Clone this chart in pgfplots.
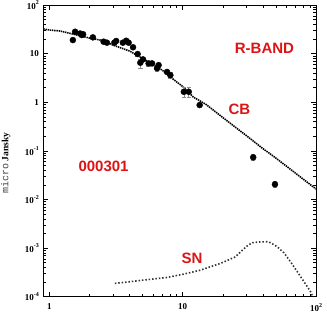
\documentclass[border=0pt]{standalone}
\usepackage{pgfplots}
\pgfplotsset{compat=1.18}
\usepackage{fontspec}
\setmainfont{Liberation Serif}
\newfontfamily\hv{Liberation Sans}
\newfontfamily\cour{Liberation Mono}
\definecolor{lblred}{RGB}{220,20,20}
\newcommand{\tk}[1]{\fontsize{9}{9}\selectfont\bfseries #1}
\newcommand{\tke}[1]{\fontsize{9}{9}\selectfont\bfseries 10\raisebox{0.5em}{\fontsize{6}{6}\selectfont #1}}
\pgfplotstableread{
x y ep em
1.50 19.0 0 0
1.56 28.2 0 0
1.70 25.9 0 0
1.75 24.1 0 0
1.79 25.0 0 0
2.12 21.6 0 0
2.55 17.6 0 0
2.70 16.8 0 0
3.07 16.8 0 0
3.17 18.2 0 0
3.56 16.8 0 0
3.77 18.4 0 0
3.93 16.8 0 0
4.24 13.5 0 0
4.59 9.8 1.0 1.0
4.81 6.5 1.2 1.5
5.04 7.6 0 0
5.55 6.3 0.8 0.8
5.89 6.3 0 0
6.42 5.0 0.7 0.7
6.60 5.8 0 0
7.63 4.2 0 0
8.08 3.6 0.5 0.5
10.2 1.64 0.4 0.35
11.1 1.64 0.4 0.35
13.4 0.875 0 0
33.8 0.0735 0.012 0.01
49.2 0.0205 0.003 0.003
}\obsdata
\begin{document}
\begin{tikzpicture}
\useasboundingbox (-43.3pt,-28.3pt) rectangle (283.7pt,296.7pt);
\begin{axis}[
  at={(0pt,0pt)}, anchor=south west, scale only axis,
  width=272.7pt, height=291.7pt,
  xmode=log, ymode=log, xmin=0.9, xmax=100, ymin=1e-4, ymax=100,
  axis line style={line width=0.8pt},
  tick style={line width=0.5pt, black},
  major tick length=5pt, minor tick length=2.8pt,
  xtick={1,10,100}, xticklabels={\tk{1},\tk{10},\tke{2}},
  minor xtick={2,3,4,5,6,7,8,9,20,30,40,50,60,70,80,90},
  ytick={1e-4,1e-3,1e-2,1e-1,1,10,100},
  yticklabels={\tke{-4},\tke{-3},\tke{-2},\tke{-1},\tk{1},\tk{10},\tke{2}},
  minor ytick={2e-4,3e-4,4e-4,5e-4,6e-4,7e-4,8e-4,9e-4,
    2e-3,3e-3,4e-3,5e-3,6e-3,7e-3,8e-3,9e-3,
    0.02,0.03,0.04,0.05,0.06,0.07,0.08,0.09,
    0.2,0.3,0.4,0.5,0.6,0.7,0.8,0.9,
    2,3,4,5,6,7,8,9,20,30,40,50,60,70,80,90},
  xticklabel style={yshift=-3pt},
  yticklabel style={xshift=-1pt},
]
% CB model curve
\addplot[black, line width=1.6pt, dash pattern=on 1.4pt off 0.8pt] coordinates {
(0.9,32.1) (1,30.6) (1.2,29.2) (1.5,25.3) (2,20.9) (2.5,18.6) (3,15.0)
(4,11.3) (5,7.93) (6,5.83) (7,4.60) (8,3.38) (10,2.10) (12,1.28)
(15,0.897) (20,0.484) (30,0.206) (40,0.111) (50,0.0711) (70,0.0349) (100,0.0164)};
% SN curve
\addplot[black!80, line width=1.6pt, dash pattern=on 1.5pt off 1.9pt] coordinates {
(3.1,1.88e-4) (4,2.03e-4) (5.09,2.2e-4) (7.63,2.49e-4) (10.2,2.92e-4)
(13.6,3.52e-4) (15.3,3.94e-4) (19.2,4.84e-4) (24.9,6.62e-4) (27.2,8.4e-4)
(30.5,1.11e-3) (33.2,1.29e-3) (38,1.34e-3) (43.1,1.35e-3) (45.6,1.29e-3)
(51.3,1.06e-3) (57.5,8.0e-4) (64.5,5.2e-4) (72.5,3.25e-4) (81.3,2.03e-4)
(91.2,1.26e-4) (96,9e-5)};
% observations
\addplot[only marks, mark=*, mark size=3pt, black,
  error bars/.cd, y dir=both, y explicit,
  error bar style={black!45, line width=0.5pt},
  error mark options={black!45, mark size=2.2pt, rotate=90}]
  table[x=x, y=y, y error plus=ep, y error minus=em] {\obsdata};
\node[font=\hv\bfseries\fontsize{15}{15}\selectfont, text=lblred] at (rel axis cs:0.811,0.853) {R-BAND};
\node[font=\hv\bfseries\fontsize{15}{15}\selectfont, text=lblred] at (rel axis cs:0.719,0.644) {CB};
\node[font=\hv\bfseries\fontsize{15}{15}\selectfont, text=lblred] at (rel axis cs:0.221,0.448) {000301};
\node[font=\hv\bfseries\fontsize{15}{15}\selectfont, text=lblred] at (rel axis cs:0.545,0.133) {SN};
\node[font=\bfseries\fontsize{7.5}{8}\selectfont, yshift=-24pt] at (rel axis cs:0.5,0) {Time After Burst (days)};
\end{axis}
\node[rotate=90, inner sep=0pt] at (-37.5pt,133.6pt) {{\cour\fontsize{10}{10}\selectfont\color{black!75}micro} {\bfseries\fontsize{9.5}{10}\selectfont Jansky}};
\end{tikzpicture}
\end{document}
